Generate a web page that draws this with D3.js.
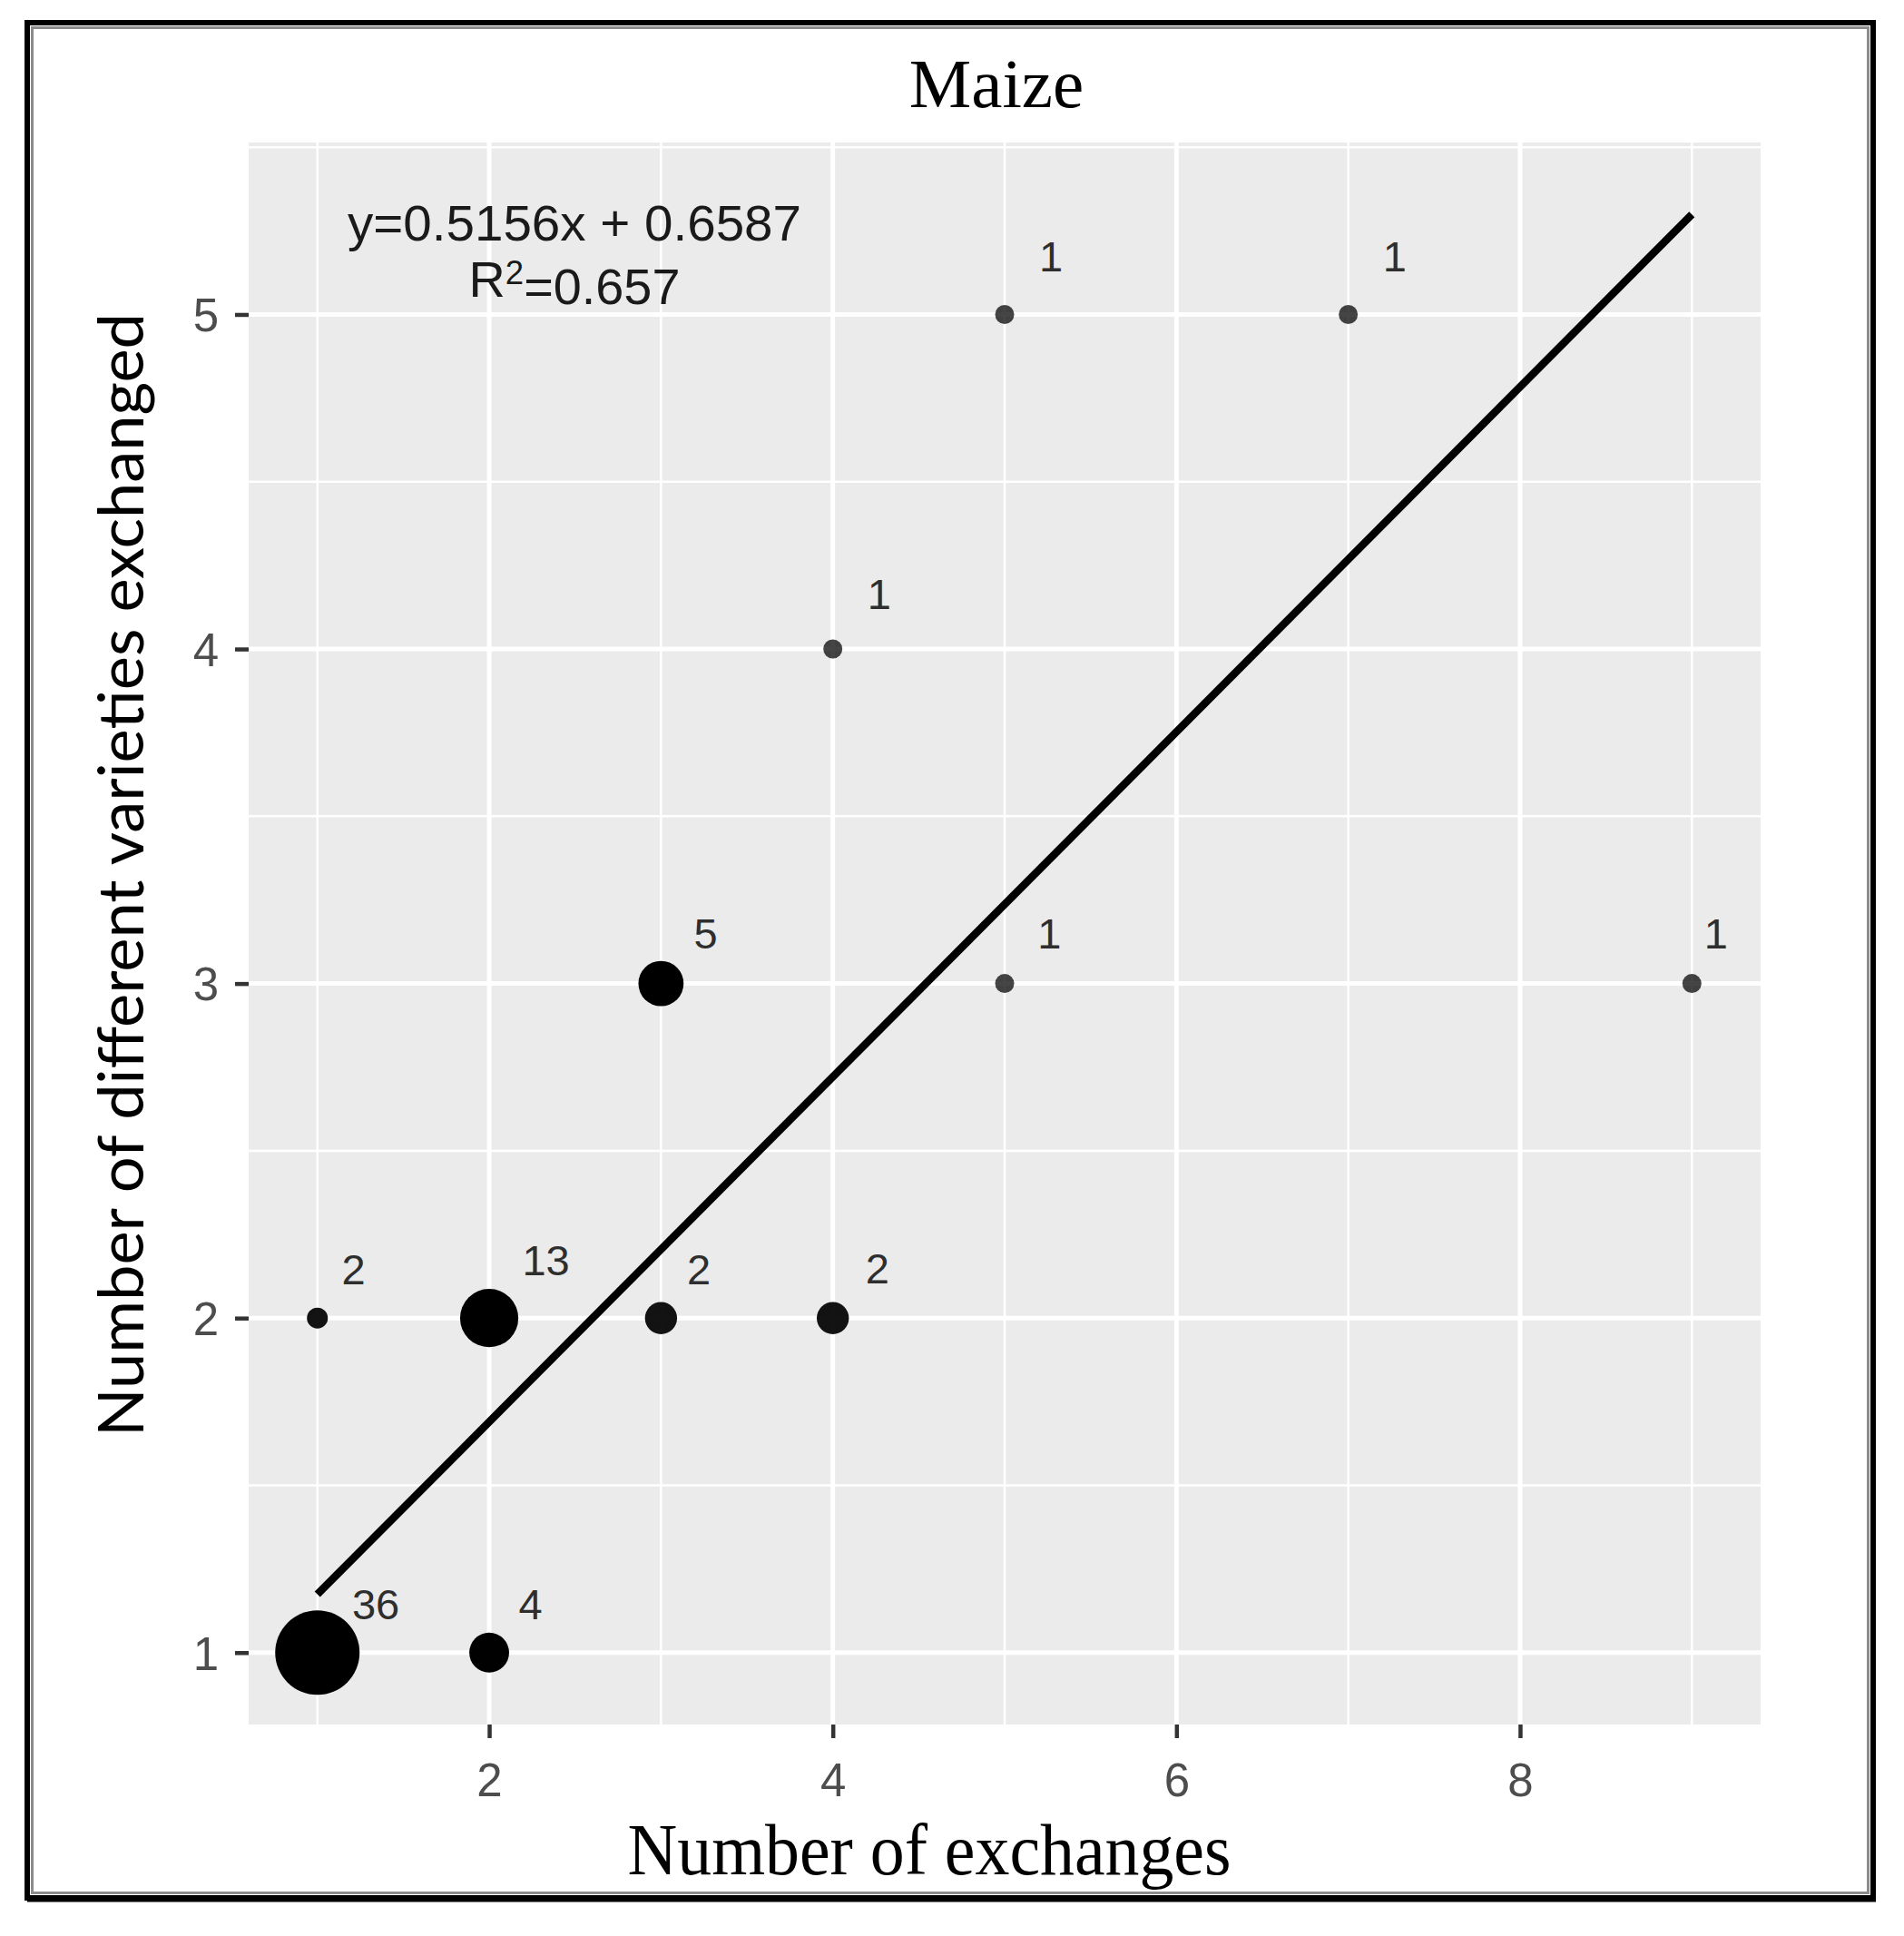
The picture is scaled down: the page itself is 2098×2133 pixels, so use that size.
<!DOCTYPE html>
<html>
<head>
<meta charset="utf-8">
<script src="https://cdn.jsdelivr.net/npm/d3@7/dist/d3.min.js"></script>
<style>
  html, body { margin: 0; padding: 0; background: #fff; }
  svg { display: block; }
</style>
</head>
<body>
<div id="chart"></div>
<script>
// data
var xVals   = [1, 2, 1, 2,  3, 4, 3, 5, 9, 4, 5, 7];      // number of exchanges
var yVals   = [1, 1, 2, 2,  2, 2, 3, 3, 3, 4, 5, 5];      // different varieties exchanged
var counts  = [36, 4, 2, 13, 2, 2, 5, 1, 1, 1, 1, 1];     // labels next to points
var sizeVar = [36, 6.7, 1.3, 16, 4, 4, 9, 1, 1, 1, 1, 1]; // mapped marker size (estimated from areas)
var fitSlope = 0.5156, fitIntercept = 0.6587, fitR2 = 0.657;
var xTicks = [2, 4, 6, 8];
var yTicks = [1, 2, 3, 4, 5];

var width = 2098, height = 2133;
var panel = {left: 274, right: 1940, top: 157, bottom: 1900};

var svg = d3.select("#chart").append("svg")
    .attr("width", width).attr("height", height);

svg.append("rect").attr("width", width).attr("height", height).style("fill", "#fff");

// ggplot style limits: data range + 5% each side
var xExt = d3.extent(xVals);
var fitEnds = xExt.map(function(x){ return fitSlope * x + fitIntercept; });
var yExt = d3.extent(yVals.concat(fitEnds));
var xPad = (xExt[1] - xExt[0]) * 0.05, yPad = (yExt[1] - yExt[0]) * 0.05;

var x = d3.scaleLinear().domain([xExt[0] - xPad, xExt[1] + xPad]).range([panel.left, panel.right]);
var y = d3.scaleLinear().domain([yExt[0] - yPad, yExt[1] + yPad]).range([panel.bottom, panel.top]);
var r = d3.scaleSqrt().domain([0, 36]).range([3.3, 46.5]);

// outer frame
svg.append("rect")
    .attr("x", 30).attr("y", 25).attr("width", 2034).attr("height", 2066)
    .style("fill", "none").style("stroke", "#000").style("stroke-width", 6);
svg.append("rect")
    .attr("x", 35.5).attr("y", 30.5).attr("width", 2023).attr("height", 2055)
    .style("fill", "none").style("stroke", "#8c8c8c").style("stroke-width", 3);
svg.append("line")
    .attr("x1", 30).attr("x2", 2067).attr("y1", 2093).attr("y2", 2093)
    .style("stroke", "#000").style("stroke-width", 5);

// panel
svg.append("rect")
    .attr("x", panel.left).attr("y", panel.top)
    .attr("width", panel.right - panel.left).attr("height", panel.bottom - panel.top)
    .style("fill", "#EBEBEB");

var grid = svg.append("g").attr("class", "grid");
var xMinor = d3.range(Math.ceil(x.domain()[0]), x.domain()[1], 2);
var yMinor = d3.range(0.5, y.domain()[1], 1).filter(function(v){ return v > y.domain()[0]; });

grid.selectAll(".xminor").data(xMinor).enter().append("line")
    .attr("x1", function(d){ return x(d); }).attr("x2", function(d){ return x(d); })
    .attr("y1", panel.top).attr("y2", panel.bottom)
    .style("stroke", "#fff").style("stroke-width", 2.5);
grid.selectAll(".yminor").data(yMinor).enter().append("line")
    .attr("y1", function(d){ return y(d); }).attr("y2", function(d){ return y(d); })
    .attr("x1", panel.left).attr("x2", panel.right)
    .style("stroke", "#fff").style("stroke-width", 2.5);
grid.selectAll(".xmajor").data(xTicks).enter().append("line")
    .attr("x1", function(d){ return x(d); }).attr("x2", function(d){ return x(d); })
    .attr("y1", panel.top).attr("y2", panel.bottom)
    .style("stroke", "#fff").style("stroke-width", 5);
grid.selectAll(".ymajor").data(yTicks).enter().append("line")
    .attr("y1", function(d){ return y(d); }).attr("y2", function(d){ return y(d); })
    .attr("x1", panel.left).attr("x2", panel.right)
    .style("stroke", "#fff").style("stroke-width", 5);

// axes
var xAxis = svg.append("g")
    .attr("transform", "translate(0," + panel.bottom + ")")
    .call(d3.axisBottom(x).tickValues(xTicks).tickSize(15).tickPadding(18).tickFormat(d3.format("d")));
var yAxis = svg.append("g")
    .attr("transform", "translate(" + panel.left + ",0)")
    .call(d3.axisLeft(y).tickValues(yTicks).tickSize(15).tickPadding(18).tickFormat(d3.format("d")));
[xAxis, yAxis].forEach(function(a){
    a.select(".domain").remove();
    a.selectAll(".tick line").style("stroke", "#333").style("stroke-width", 4.5);
    a.selectAll(".tick text")
        .style("font-family", "'Liberation Sans', Arial, sans-serif")
        .style("font-size", "51px")
        .style("fill", "#4D4D4D");
});
xAxis.selectAll(".tick text").attr("dy", "0.9em");
yAxis.selectAll(".tick text").attr("dy", "0.36em");

// points (overplotted, alpha builds up with count)
var pts = xVals.map(function(d, i){
    return {x: d, y: yVals[i], n: counts[i], s: sizeVar[i]};
});
svg.append("g").selectAll("circle").data(pts).enter().append("circle")
    .attr("cx", function(d){ return x(d.x); })
    .attr("cy", function(d){ return y(d.y); })
    .attr("r", function(d){ return r(d.s); })
    .style("fill", "#000")
    .style("fill-opacity", function(d){ return 1 - Math.pow(0.27, d.n); });

// fitted line
svg.append("line")
    .attr("x1", x(xExt[0])).attr("y1", y(fitEnds[0]))
    .attr("x2", x(xExt[1])).attr("y2", y(fitEnds[1]))
    .style("stroke", "#000").style("stroke-width", 8.5);

// count labels, nudged up-right (a few moved like the repelled originals)
var nudge = {"1,1": [0.34, 0.147], "2,2": [0.33, 0.174], "1,2": [0.21, 0.147],
             "3,2": [0.22, 0.147], "2,1": [0.24, 0.147], "9,3": [0.14, 0.15],
             "4,4": [0.27, 0.166], "5,5": [0.27, 0.176], "7,5": [0.27, 0.176]};
svg.append("g").selectAll("text").data(pts).enter().append("text")
    .attr("x", function(d){ var k = nudge[d.x + "," + d.y] || [0.26, 0.15]; return x(d.x + k[0]); })
    .attr("y", function(d){ var k = nudge[d.x + "," + d.y] || [0.26, 0.15]; return y(d.y + k[1]); })
    .attr("dy", "0.36em")
    .attr("text-anchor", "middle")
    .style("font-family", "'Liberation Sans', Arial, sans-serif")
    .style("font-size", "47px")
    .style("fill", "#2e2e2e")
    .text(function(d){ return d.n; });

// equation
var eq = svg.append("g")
    .style("font-family", "'Liberation Sans', Arial, sans-serif")
    .style("font-size", "55px")
    .style("fill", "#1a1a1a")
    .attr("text-anchor", "middle");
eq.append("text").attr("x", 633).attr("y", 265)
    .attr("textLength", 500).attr("lengthAdjust", "spacingAndGlyphs")
    .text("y=" + fitSlope + "x + " + fitIntercept);
var r2 = eq.append("text").attr("x", 633).attr("y", 327)
    .attr("textLength", 233).attr("lengthAdjust", "spacingAndGlyphs");
r2.append("tspan").text("R");
r2.append("tspan").attr("dy", "-0.4em").style("font-size", "36px").text("2");
r2.append("tspan").attr("dy", "0.4em").text("=" + fitR2);

// titles
svg.append("text")
    .attr("x", 1098).attr("y", 118)
    .attr("text-anchor", "middle")
    .style("font-family", "'Liberation Serif', 'Times New Roman', serif")
    .style("font-size", "77px")
    .style("fill", "#000")
    .text("Maize");

svg.append("text")
    .attr("x", 1024).attr("y", 2065)
    .attr("text-anchor", "middle")
    .attr("textLength", 665).attr("lengthAdjust", "spacingAndGlyphs")
    .style("font-family", "'Liberation Serif', 'Times New Roman', serif")
    .style("font-size", "80px")
    .style("fill", "#000")
    .text("Number of exchanges");

svg.append("text")
    .attr("transform", "translate(158,964) rotate(-90)")
    .attr("text-anchor", "middle")
    .attr("textLength", 1238).attr("lengthAdjust", "spacingAndGlyphs")
    .style("font-family", "Lato, 'Open Sans', sans-serif")
    .style("font-size", "70px")
    .style("fill", "#000")
    .text("Number of different varieties exchanged");
</script>
</body>
</html>
